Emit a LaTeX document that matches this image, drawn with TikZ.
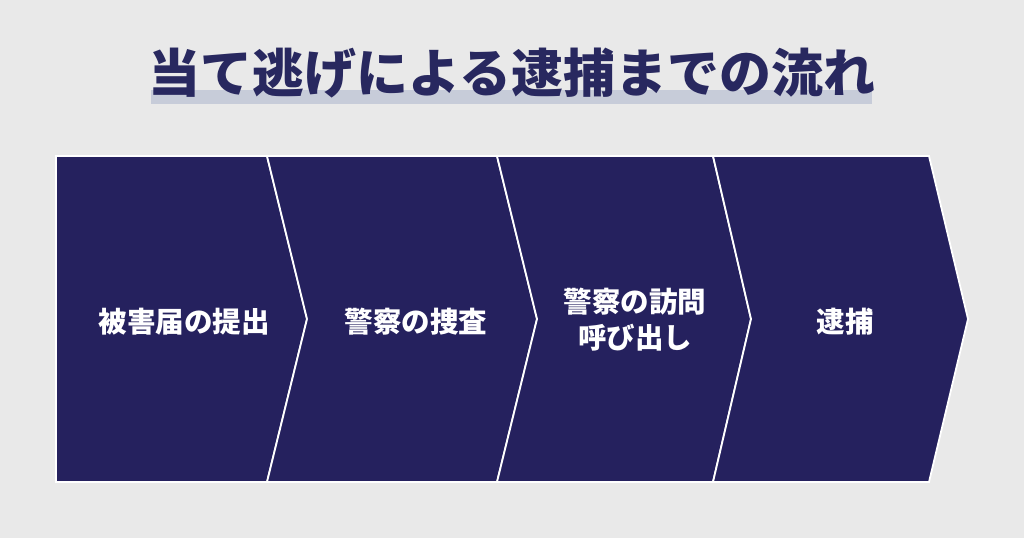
\documentclass[tikz,border=0pt]{standalone}
\usepackage{fontspec}
\newfontfamily\jp{Noto Sans CJK JP}
\definecolor{bgc}{HTML}{E9E9E9}
\definecolor{navy}{HTML}{25215E}
\definecolor{titlec}{HTML}{28285F}
\definecolor{barc}{HTML}{C7CCD9}
\tikzset{
  chev/.style={fill=navy, draw=white, line width=1.8pt, line join=miter},
  lab/.style={text=white, font=\jp\bfseries\fontsize{28.5}{36}\selectfont, align=center, inner sep=0pt},
}
\begin{document}
\begin{tikzpicture}[x=1pt,y=-1pt]
\fill[bgc] (0,0) rectangle (1024,538);
\useasboundingbox (0,0) rectangle (1024,538);
% title bar
\fill[barc] (151,90) rectangle (872,104);
\node[text=titlec, font=\jp\bfseries\fontsize{52}{60}\selectfont, inner sep=0pt] (title) at (512,73) {当て逃げによる逮捕までの流れ};
% chevrons
\draw[chev] (56,156) -- (267,156) -- (307,319) -- (267,482) -- (56,482) -- cycle;
\draw[chev] (267,156) -- (497,156) -- (537,319) -- (497,482) -- (267,482) -- (307,319) -- cycle;
\draw[chev] (497,156) -- (713,156) -- (751,319) -- (713,482) -- (497,482) -- (537,319) -- cycle;
\draw[chev] (713,156) -- (929,156) -- (968,319) -- (929,482) -- (713,482) -- (751,319) -- cycle;
% labels
\node[lab] (s1) at (184,322) {被害届の提出};
\node[lab] (s2) at (416,322) {警察の捜査};
\node[lab] (s3) at (635,320) {警察の訪問\\呼び出し};
\node[lab] (s4) at (845,322) {逮捕};
\end{tikzpicture}
\end{document}
